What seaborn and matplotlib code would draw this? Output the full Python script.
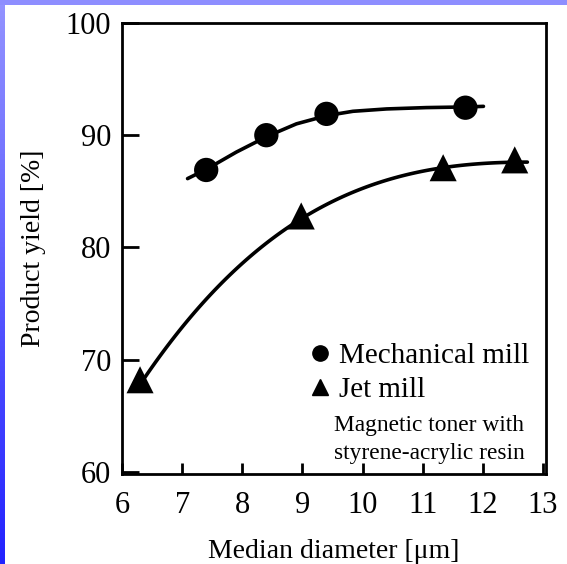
import numpy as np
import pandas as pd
import matplotlib
matplotlib.use("Agg")
import matplotlib.pyplot as plt
from matplotlib.lines import Line2D
from matplotlib.colors import LinearSegmentedColormap
import seaborn as sns

# ---- data ----
mech_x = [7.40, 8.40, 9.40, 11.71]
mech_y = [86.9, 90.0, 91.9, 92.45]
jet_x = [6.30, 8.98, 11.34, 12.53]
jet_y = [68.2, 82.8, 87.1, 87.8]

# fitted trend curves as drawn in the reference
mech_curve_x = [7.09, 7.40, 7.90, 8.42, 8.90, 9.41, 9.84, 10.40, 11.06, 11.75, 12.01]
mech_curve_y = [86.13, 86.95, 88.49, 89.91, 91.01, 91.75, 92.13, 92.34, 92.46, 92.52, 92.57]
jet_curve_x = [6.30, 6.41, 6.96, 7.51, 8.06, 8.61, 8.99, 9.49, 10.04, 10.59, 11.14, 11.34, 11.97, 12.53, 12.74]
jet_curve_y = [68.19, 68.34, 72.33, 76.03, 78.98, 81.35, 82.55, 84.0, 85.34, 86.37, 86.9, 87.05, 87.41, 87.6, 87.65]

x_ticks = [6, 7, 8, 9, 10, 11, 12, 13]
y_ticks = [60, 70, 80, 90, 100]
series_labels = ["Mechanical mill", "Jet mill"]
note_text = "Magnetic toner with\nstyrene-acrylic resin"
x_label = "Median diameter [\u03bcm]"
y_label = "Product yield [%]"

sns.set_theme(style="ticks")
plt.rcParams["font.family"] = ["Liberation Serif", "DejaVu Serif"]
plt.rcParams["text.color"] = "black"
plt.rcParams["axes.labelcolor"] = "black"
plt.rcParams["xtick.color"] = "black"
plt.rcParams["ytick.color"] = "black"

fig = plt.figure(figsize=(5.67, 5.64), dpi=100)
fig.patch.set_facecolor("white")

# slide border (top strip + left gradient strip)
W, H = 567, 564
bg = fig.add_axes([0, 0, 1, 1], zorder=-10)
bg.set_xlim(0, W)
bg.set_ylim(H, 0)
bg.axis("off")
grad = np.linspace(0, 1, 256).reshape(-1, 1)
cmap = LinearSegmentedColormap.from_list("border", ["#9494ff", "#2222ff"])
bg.imshow(grad, cmap=cmap, extent=[0, 5, H, 0], aspect="auto")
bg.add_patch(plt.Rectangle((0, 0), W, 5, color="#8e8eff", lw=0))

ax = fig.add_axes([122 / W, 1 - 474 / H, (546 - 122) / W, (474 - 23) / H])

# trend curves
df_mc = pd.DataFrame({"x": mech_curve_x, "y": mech_curve_y})
sns.lineplot(data=df_mc, x="x", y="y", ax=ax, color="black", lw=2.6,
             sort=False, estimator=None)
sns.regplot(x=jet_curve_x, y=jet_curve_y, ax=ax, order=3, ci=None, scatter=False,
            truncate=True, line_kws=dict(color="black", lw=2.6))

df_m = pd.DataFrame({"x": mech_x, "y": mech_y})
df_j = pd.DataFrame({"x": jet_x, "y": jet_y})
sns.scatterplot(data=df_m, x="x", y="y", ax=ax, marker="o", s=17.5 ** 2,
                color="black", edgecolor="none", zorder=5)
sns.scatterplot(data=df_j, x="x", y="y", ax=ax, marker="^", s=19.5 ** 2,
                color="black", edgecolor="none", zorder=5)

ax.set_xlim(6, 13.05)
ax.set_ylim(59.8, 100)
ax.set_xticks(x_ticks)
ax.set_yticks(y_ticks)
ax.tick_params(axis="x", direction="in", length=8, width=2, labelsize=22, pad=12,
               colors="black")
ax.tick_params(axis="y", direction="in", length=12, width=2, labelsize=22, pad=8,
               colors="black")
for sp in ax.spines.values():
    sp.set_linewidth(2)
    sp.set_color("black")
    sp.set_visible(True)

ax.set_xlabel(x_label, fontsize=20, labelpad=14, color="black")
ax.set_ylabel(y_label, fontsize=20, labelpad=14, color="black")

handles = [
    Line2D([], [], marker="o", color="black", ls="none", markersize=11),
    Line2D([], [], marker="^", color="black", ls="none", markersize=12),
]
leg = ax.legend(handles, series_labels, loc="upper left",
                bbox_to_anchor=((305 - 122) / (546 - 122), 1 - (343 - 23) / (474 - 23)),
                frameon=False, fontsize=21, handletextpad=0.15, labelspacing=0.25,
                borderpad=0, handlelength=1.0, borderaxespad=0)
for t in leg.get_texts():
    t.set_color("black")

ax.text(0.725, 0.077, note_text, transform=ax.transAxes, ha="center", va="center",
        multialignment="center", fontsize=16.8, linespacing=1.45, color="black")

fig.savefig("out.png", dpi=100)
